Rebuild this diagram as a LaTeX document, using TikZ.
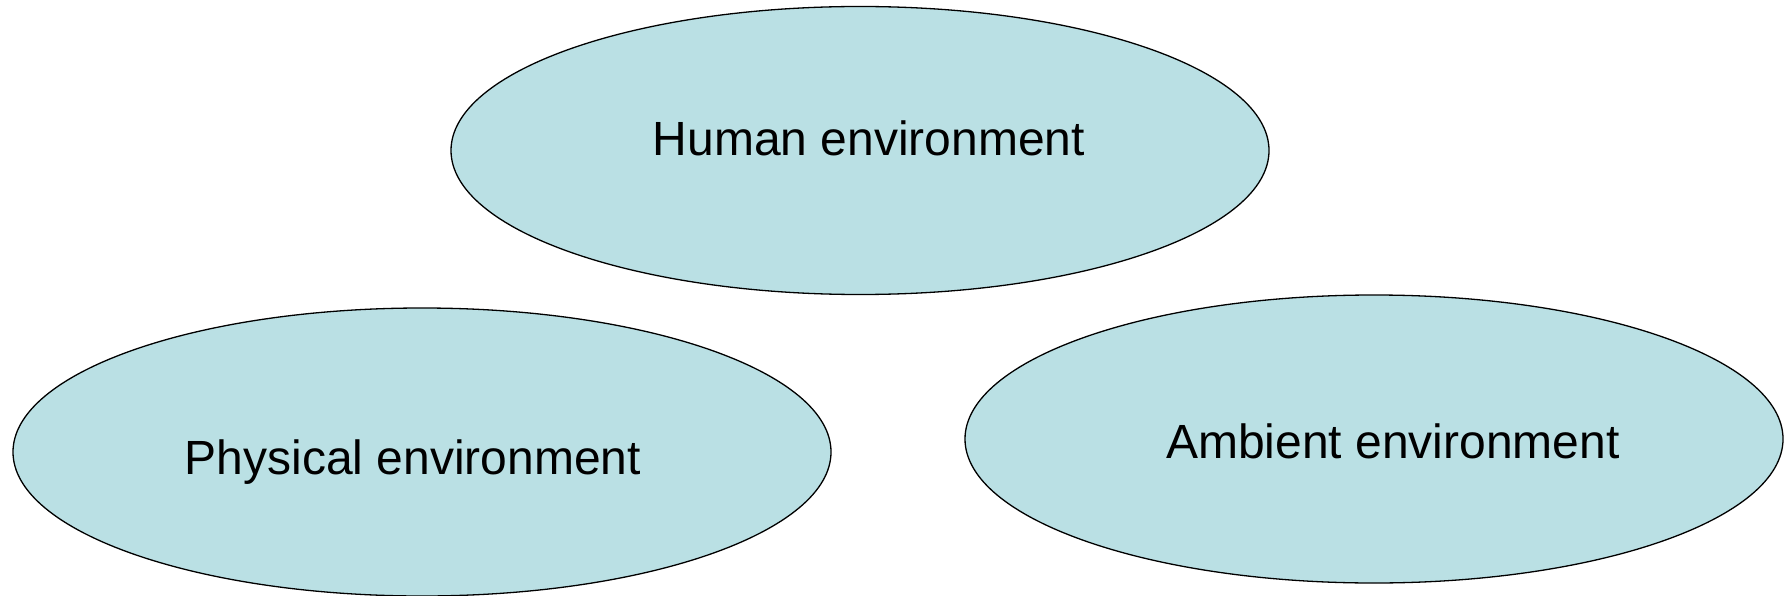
\documentclass[tikz,border=0pt]{standalone}
\usepackage{fontspec}
\setmainfont{Liberation Sans}
\usetikzlibrary{shapes.geometric}
\definecolor{envfill}{RGB}{186,224,228}
\tikzset{
  envshape/.style={ellipse, draw=black, fill=envfill, line width=1.3pt, inner sep=0pt,
    minimum width=818pt, minimum height=288pt},
  envtext/.style={anchor=base, inner sep=0pt, font=\fontsize{48}{56}\selectfont}
}
\begin{document}
\begin{tikzpicture}[x=1pt,y=-1pt]
\useasboundingbox (0,0) rectangle (1784,596);
\node[envshape] (human) at (860,150.5) {};
\node[envshape] (physical) at (422,452) {};
\node[envshape] (ambient) at (1374,439) {};
\node[envtext] (humanlbl) at (869,156) {Human environment};
\node[envtext] (physicallbl) at (413,474) {Physical environment};
\node[envtext] (ambientlbl) at (1393,458) {Ambient environment};
\end{tikzpicture}
\end{document}
